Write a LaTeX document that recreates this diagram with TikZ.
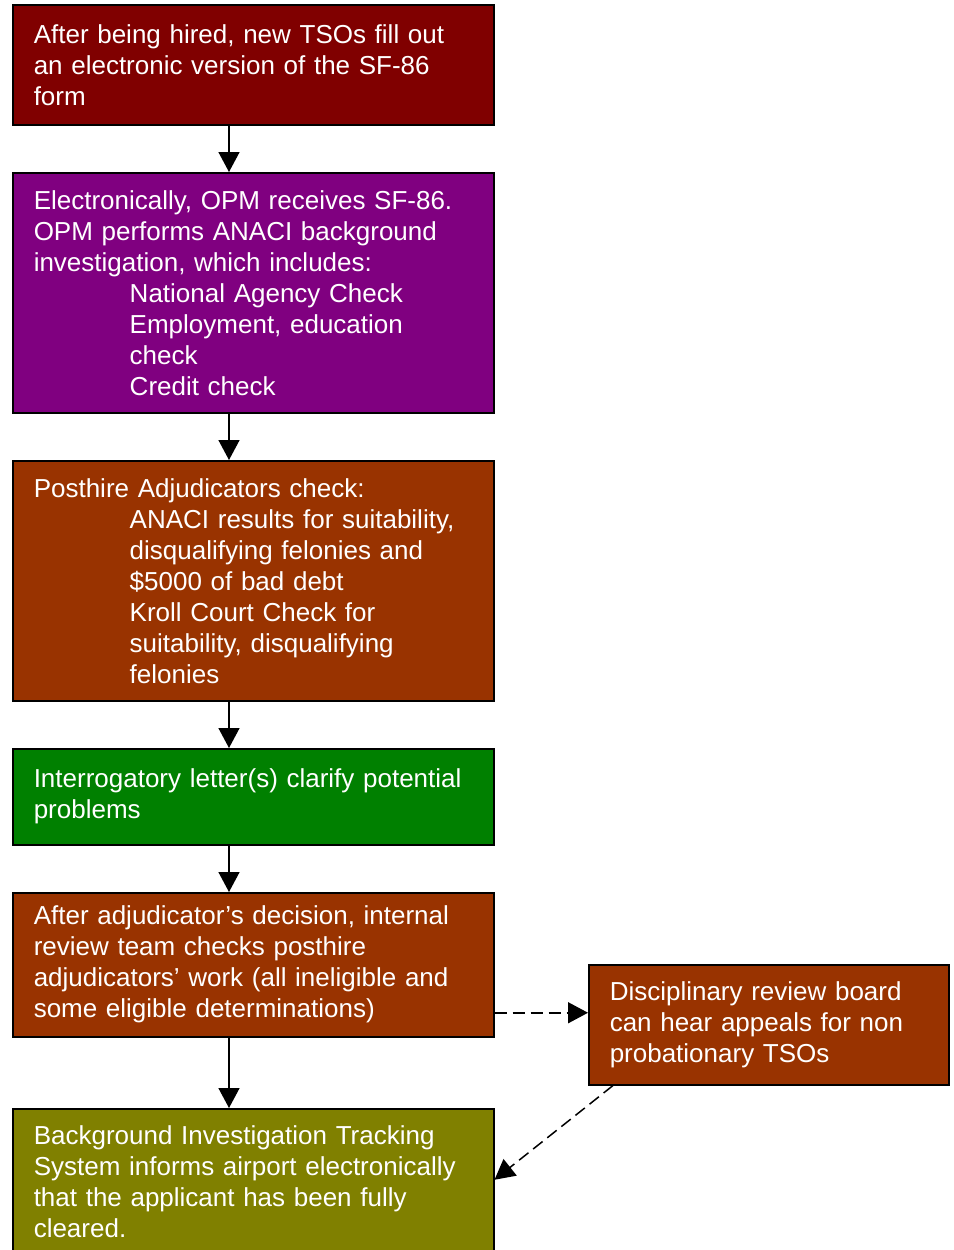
\documentclass[tikz,border=0pt]{standalone}
\usepackage{fontspec}
\setmainfont{Liberation Sans}
\usetikzlibrary{arrows.meta}
\hyphenpenalty=10000
\definecolor{maroonbox}{HTML}{800000}
\definecolor{purplebox}{HTML}{800080}
\definecolor{rustbox}{HTML}{993300}
\definecolor{greenbox}{HTML}{008000}
\definecolor{olivebox}{HTML}{808000}
\tikzset{
  flowbox/.style={draw=black, line width=1.5pt, anchor=north west, text=white, align=left,
    inner xsep=21pt, inner ysep=0pt, text width=439pt, minimum width=481pt,
    font=\fontsize{26}{31}\selectfont},
  arr/.style={-{Triangle[length=20pt,width=21pt]}, line width=1.5pt},
  dasharr/.style={arr, dash pattern=on 12pt off 6pt}
}
\newcommand{\ind}{\hspace*{96pt}}
\begin{document}
\begin{tikzpicture}[x=1pt,y=1pt]
			\useasboundingbox (0,0) rectangle (953,-1250);
			\coordinate (axis) at (229,0);
			\node[flowbox, fill=maroonbox, minimum height=120pt] (hire) at (12,-4)
				{After being hired, new TSOs fill out\\an electronic version of the SF-86\\form};
			\node[flowbox, fill=purplebox, minimum height=240pt] (opm) at (12,-172)
				{Electronically, OPM receives SF-86.\\OPM performs ANACI background\\investigation, which includes:\\
				\ind National Agency Check\\\ind Employment, education\\\ind check\\\ind Credit check};
			\node[flowbox, fill=rustbox, minimum height=240pt] (adj) at (12,-460)
				{Posthire Adjudicators check:\\\ind ANACI results for suitability,\\\ind disqualifying felonies and\\
				\ind \$5000 of bad debt\\\ind Kroll Court Check for\\\ind suitability, disqualifying\\\ind felonies};
			\node[flowbox, fill=greenbox, minimum height=96pt] (letter) at (12,-748)
				{Interrogatory letter(s) clarify potential\\problems};
			\node[flowbox, fill=rustbox, minimum height=144pt] (review) at (12,-892)
				{After adjudicator’s decision, internal\\review team checks posthire\\adjudicators’ work (all ineligible and\\some eligible determinations)};
			\node[flowbox, fill=rustbox, minimum height=120pt, text width=318pt, minimum width=360pt] (board) at (588,-964)
				{Disciplinary review board\\can hear appeals for non\\probationary TSOs};
			\node[flowbox, fill=olivebox, minimum height=146pt] (cleared) at (12,-1108)
				{Background Investigation Tracking\\System informs airport electronically\\that the applicant has been fully\\cleared.};
			\draw[arr] (hire.south -| axis) -- (opm.north -| axis);
			\draw[arr] (opm.south -| axis) -- (adj.north -| axis);
			\draw[arr] (adj.south -| axis) -- (letter.north -| axis);
			\draw[arr] (letter.south -| axis) -- (review.north -| axis);
			\draw[arr] (review.south -| axis) -- (cleared.north -| axis);
			\draw[dasharr] ([yshift=-48pt]review.east) -- ([yshift=-48pt]review.east -| board.west);
			\draw[dasharr] ([xshift=25pt]board.south west) -- ([yshift=2pt]cleared.east);
		\end{tikzpicture}
\end{document}
